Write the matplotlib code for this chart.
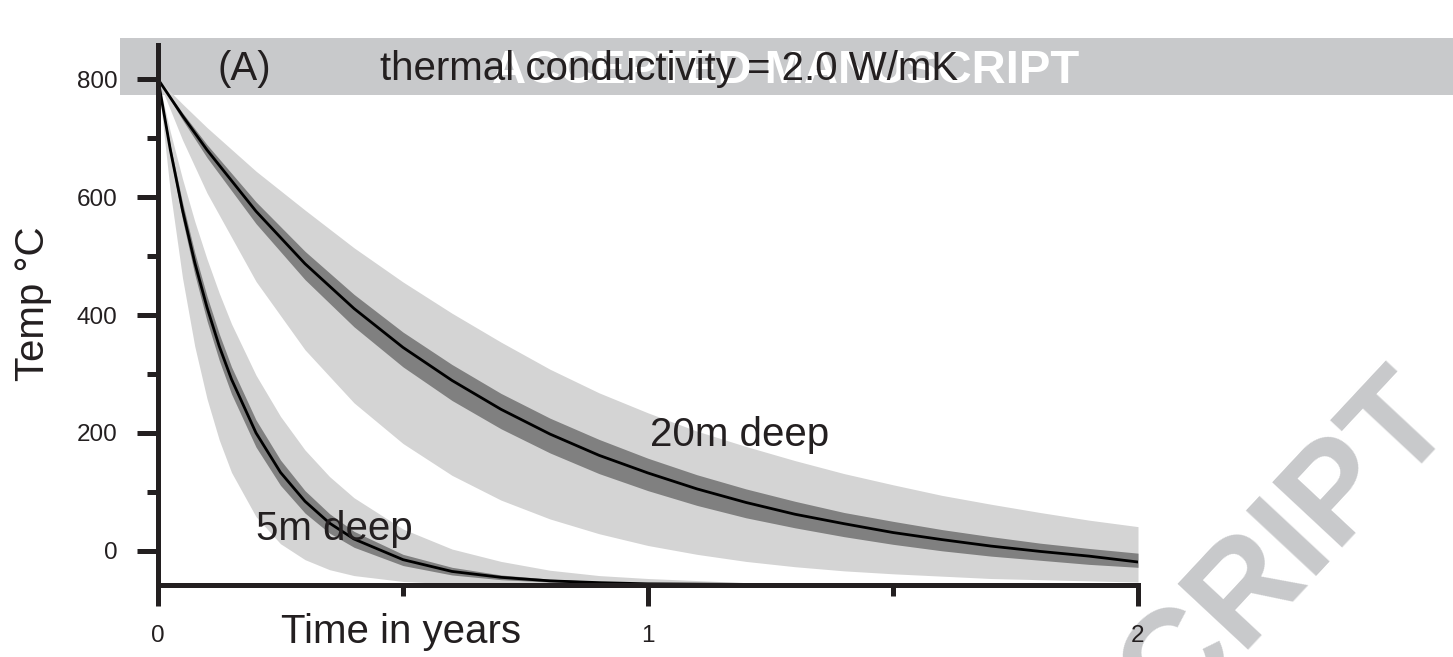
import matplotlib.pyplot as plt
from matplotlib.patches import Rectangle

# time axis (years) for each depth
t20 = [0, 0.05, 0.1, 0.2, 0.3, 0.4, 0.5, 0.6, 0.7, 0.8, 0.9, 1.0,
       1.1, 1.2, 1.3, 1.4, 1.5, 1.6, 1.7, 1.8, 1.9, 2.0]
t5 = [0, 0.025, 0.05, 0.075, 0.1, 0.125, 0.15, 0.2, 0.25, 0.3, 0.35, 0.4,
      0.5, 0.6, 0.7, 0.8, 0.9, 1.0, 1.2, 1.4, 1.6, 1.8, 2.0]

# 20 m deep: central curve, inner (dark) and outer (light) envelopes, deg C
deep20_mid = [800, 738, 680, 576, 487, 411, 345, 289, 240, 198, 162, 132,
              105, 82, 62, 46, 31, 19, 8, -1, -9, -19]
deep20_dark_hi = [800, 743, 689, 592, 508, 435, 371, 316, 267, 225, 189, 157,
                  129, 105, 84, 65, 50, 36, 24, 13, 4, -4]
deep20_dark_lo = [800, 731, 667, 555, 460, 380, 312, 255, 207, 166, 131, 102,
                  77, 56, 39, 24, 11, 0, -9, -16, -23, -28]
deep20_light_hi = [800, 758, 718, 644, 578, 514, 456, 403, 354, 308, 268, 234,
                   203, 177, 153, 131, 112, 94, 79, 65, 52, 41]
deep20_light_lo = [800, 697, 607, 457, 341, 251, 182, 128, 86, 54, 29, 9,
                   -6, -18, -27, -34, -39, -43, -47, -49, -51, -53]

# 5 m deep
deep5_mid = [800, 681, 578, 489, 413, 347, 291, 200, 133, 84, 47, 20,
             -15, -35, -45, -51, -54, -56, -57, -58, -58, -58, -58]
deep5_dark_hi = [800, 688, 591, 506, 432, 368, 312, 222, 154, 102, 63, 33,
                 -6, -28, -41, -48, -52, -55, -57, -58, -58, -58, -58]
deep5_dark_lo = [800, 671, 562, 469, 390, 323, 266, 176, 111, 64, 30, 6,
                 -25, -41, -49, -53, -55, -57, -58, -58, -58, -58, -58]
deep5_light_hi = [800, 711, 631, 559, 495, 437, 385, 298, 228, 171, 126, 90,
                  37, 3, -18, -33, -42, -47, -54, -56, -57, -58, -58]
deep5_light_lo = [800, 610, 463, 347, 258, 188, 133, 58, 12, -15, -32, -42,
                  -52, -56, -57, -58, -58, -58, -58, -58, -58, -58, -58]

plt.rcParams['font.family'] = ['Liberation Sans', 'DejaVu Sans']
ink = '#231f20'
light = '#d4d4d4'
dark = '#808080'
band = '#c8c9cb'

fig = plt.figure(figsize=(14.53, 6.57), dpi=100)
ax = fig.add_axes([158 / 1453, 72 / 657, 980 / 1453, 540 / 657])
ax.patch.set_alpha(0)

# grey header strip and watermarks behind the axes
fig.add_artist(Rectangle((120 / 1453, 562 / 657), 1 - 120 / 1453, 57 / 657,
                         transform=fig.transFigure, facecolor=band,
                         edgecolor='none', zorder=-2))
fig.text(786 / 1453, (657 - 83) / 657, 'ACCEPTED MANUSCRIPT', color='white',
         fontsize=34, fontweight='bold', ha='center', va='baseline', zorder=-1)
fig.text(1458 / 1453, (657 - 425) / 657, 'ACCEPTED MANUSCRIPT', color=band,
         fontsize=100, fontweight='bold', rotation=47, rotation_mode='anchor',
         ha='right', va='baseline', zorder=-1)

fig.text(218 / 1453, (657 - 80) / 657, '(A)', fontsize=29, color=ink,
         ha='left', va='baseline', zorder=1)
fig.text(380 / 1453, (657 - 80) / 657, 'thermal conductivity = 2.0 W/mK',
         fontsize=29, color=ink, ha='left', va='baseline', zorder=1)

ax.fill_between(t20, deep20_light_lo, deep20_light_hi, color=light, lw=0, zorder=1)
ax.fill_between(t5, deep5_light_lo, deep5_light_hi, color=light, lw=0, zorder=1)
ax.fill_between(t20, deep20_dark_lo, deep20_dark_hi, color=dark, lw=0, zorder=2)
ax.fill_between(t5, deep5_dark_lo, deep5_dark_hi, color=dark, lw=0, zorder=2)
ax.plot(t20, deep20_mid, color='black', lw=2, zorder=3)
ax.plot(t5, deep5_mid, color='black', lw=2, zorder=3)

ax.text(1.004, 178, '20m deep', fontsize=29, color=ink, va='baseline', zorder=5)
ax.text(0.201, 18, '5m deep', fontsize=29, color=ink, va='baseline', zorder=5)

ax.set_xlim(0, 2)
ax.set_ylim(-58, 858)
for side in ['top', 'right']:
    ax.spines[side].set_visible(False)
for side in ['left', 'bottom']:
    ax.spines[side].set_linewidth(3.6)
    ax.spines[side].set_color(ink)
    ax.spines[side].set_zorder(4)

ax.set_xticks([0, 1, 2])
ax.set_xticks([0.5, 1.5], minor=True)
ax.set_yticks([0, 200, 400, 600, 800])
ax.set_yticks([100, 300, 500, 700], minor=True)
ax.tick_params(which='major', length=15, width=3.6, color=ink, direction='out',
               labelsize=17.5, labelcolor=ink, pad=14)
ax.tick_params(which='minor', length=8, width=3.6, color=ink, direction='out')

fig.text(33 / 1453, (657 - 304) / 657, 'Temp °C', rotation=90, fontsize=29,
         color=ink, ha='center', va='center')
fig.text(281 / 1453, (657 - 643) / 657, 'Time in years', fontsize=29,
         color=ink, ha='left', va='baseline')

fig.savefig('out.png', dpi=100)
